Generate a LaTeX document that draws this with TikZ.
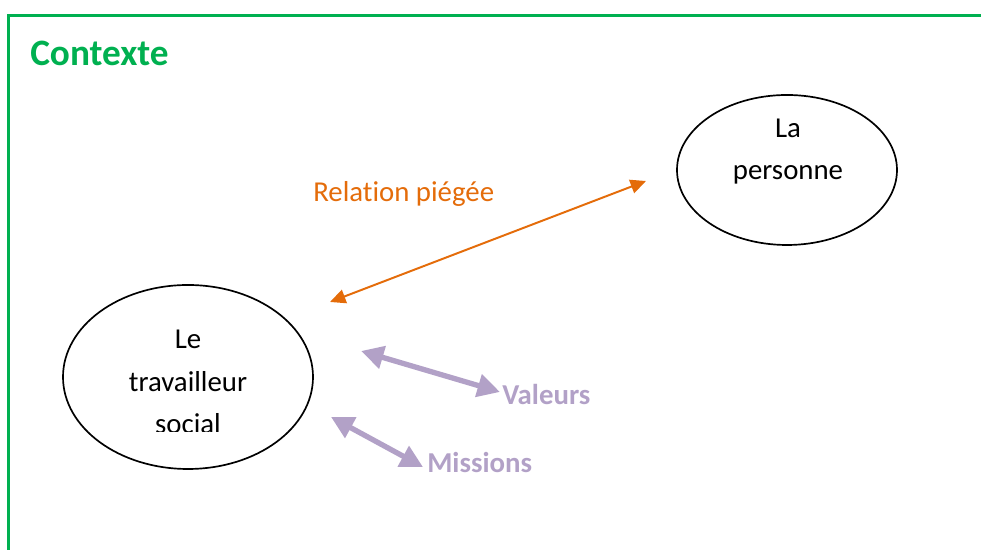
\documentclass[tikz,border=0pt]{standalone}
\usepackage{fontspec}
\setmainfont{Carlito}[RawFeature={-liga;-clig;-calt}]
\usetikzlibrary{shapes.geometric,arrows.meta}

\definecolor{framegreen}{HTML}{00B050}
\definecolor{traporange}{HTML}{E46C0A}
\definecolor{lavender}{HTML}{B2A1C7}

\tikzset{
  bubble/.style={draw, line width=1.2pt, ellipse, inner sep=0pt},
  bubbletext/.style={align=center, inner sep=0pt, font=\fontsize{20.5}{30}\selectfont},
  label/.style={inner sep=0pt, anchor=base west, font=\fontsize{20.5}{25}\selectfont},
  traparrow/.style={traporange, line width=1.4pt,
    {Triangle[length=11pt,width=10pt]}-{Triangle[length=11pt,width=10pt]}},
  linkarrow/.style={lavender, line width=3.8pt,
    {Triangle[length=16pt,width=16pt]}-{Triangle[length=16pt,width=16pt]}},
}

\begin{document}
\begin{tikzpicture}
  \useasboundingbox (0,0) rectangle (24.525,13.75);
  \clip (0,0) rectangle (24.525,13.75);

  % green frame, runs off the page on the right and at the bottom
  \draw[framegreen, line width=1.5pt] (0.2125,-1) rectangle (30,13.3625);
  \node[label, framegreen, font=\fontsize{26.5}{30}\selectfont\bfseries] (title) at (0.75,12.1) {Contexte};

  % the two people
  \node[bubble, minimum width=6.25cm, minimum height=4.6cm] (worker) at (4.7,4.325) {};
  \node[bubble, minimum width=5.5cm, minimum height=3.75cm] (person) at (19.675,9.5) {};
  \node[bubbletext] (persontext) at (19.7,9.96) {La\\personne};
  \begin{scope}
    \clip (2,2.95) rectangle (8,7);
    \node[bubbletext] (workertext) at (4.7,4.2) {Le\\travailleur\\social};
  \end{scope}

  % relation between them
  \coordinate (relA) at (8.25,6.2);
  \coordinate (relB) at (16.15,9.225);
  \draw[traparrow] (relA) -- (relB);
  \node[label, traporange] (relation) at (7.825,8.7) {Relation piégée};

  % values and missions
  \coordinate (valA) at (9.025,4.975);
  \coordinate (valB) at (12.5,3.95);
  \coordinate (misA) at (8.275,3.325);
  \coordinate (misB) at (10.575,2.075);
  \draw[linkarrow] (valA) -- (valB);
  \draw[linkarrow] (misA) -- (misB);
  \node[label, lavender, font=\fontsize{20.5}{25}\selectfont\bfseries] (valeurs) at (12.55,3.625) {Valeurs};
  \node[label, lavender, font=\fontsize{20.5}{25}\selectfont\bfseries] (missions) at (10.675,1.925) {Missions};
\end{tikzpicture}
\end{document}
